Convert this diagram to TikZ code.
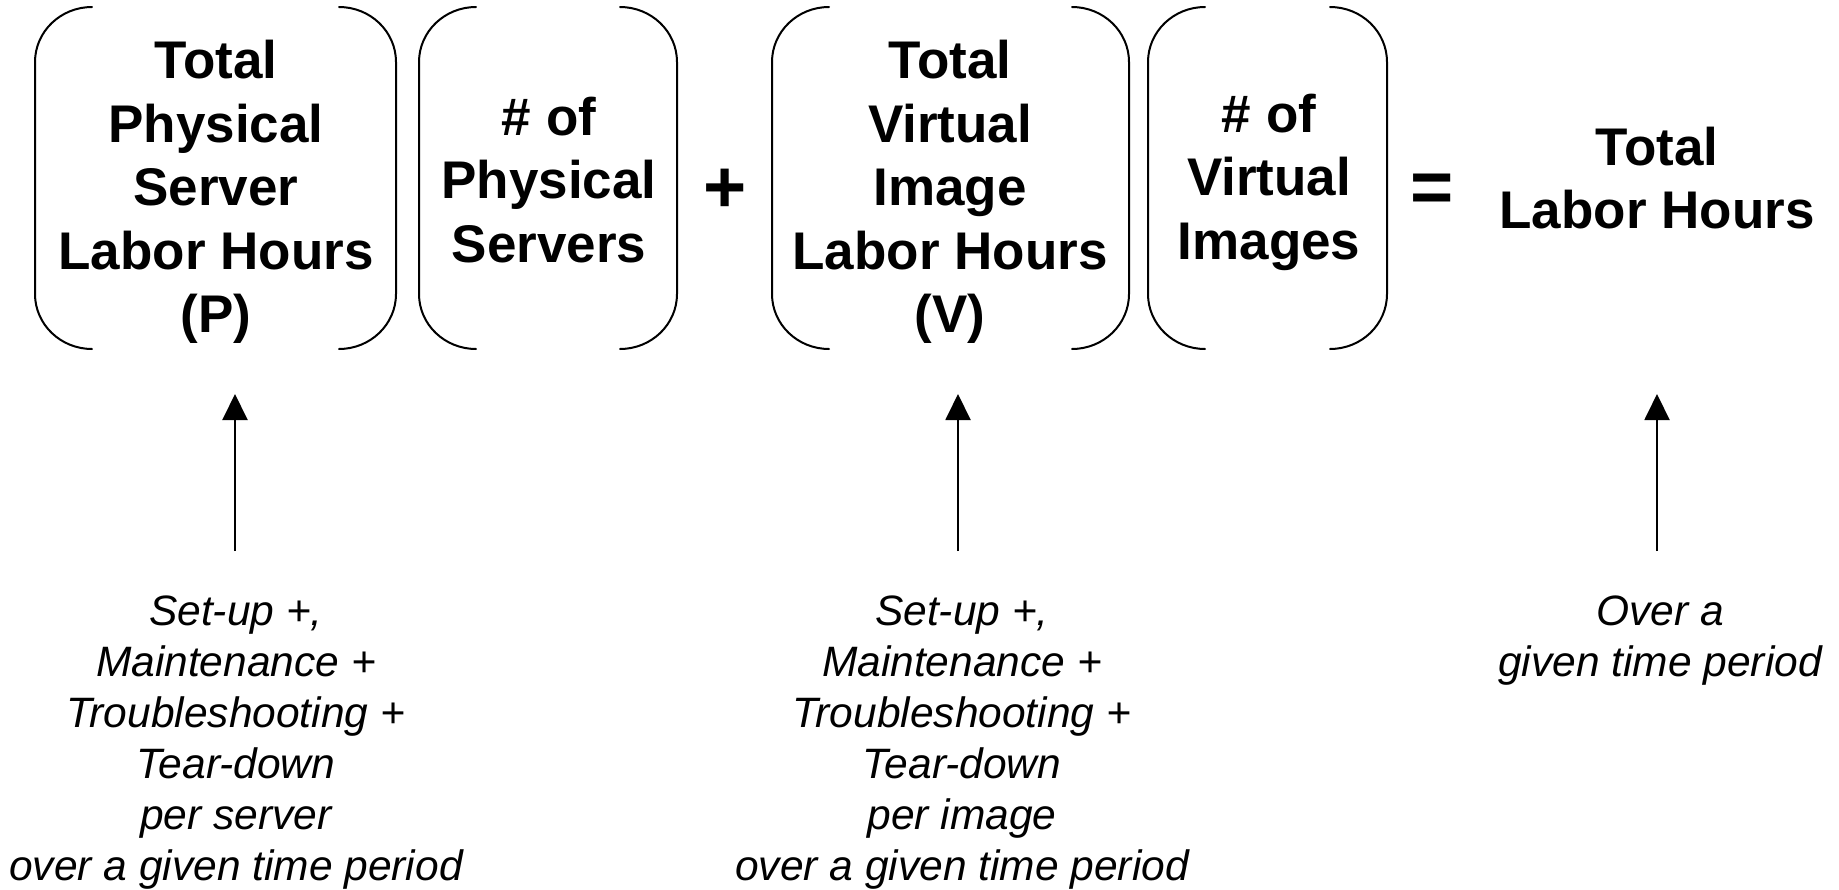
\documentclass[tikz,border=0pt]{standalone}
\usepackage{fontspec}
\setmainfont{Liberation Sans}
\usetikzlibrary{arrows.meta}

% a pair of round brackets enclosing a term: left x, right x, top y, bottom y
\newcommand\termbrackets[4]{%
  \draw[brk] ({#1+57},#3) arc[start angle=-90,end angle=-180,x radius=57,y radius=55]
    -- (#1,{#4-55}) arc[start angle=180,end angle=90,x radius=57,y radius=55];
  \draw[brk] ({#2-57},#3) arc[start angle=-90,end angle=0,x radius=57,y radius=55]
    -- (#2,{#4-55}) arc[start angle=0,end angle=90,x radius=57,y radius=55];
}

\tikzset{
  brk/.style={line width=2pt, line cap=round},
  term/.style={align=center, inner sep=0pt, font=\bfseries\fontsize{53}{63.5}\selectfont},
  oper/.style={inner sep=0pt, font=\bfseries\fontsize{74}{80}\selectfont},
  note/.style={align=center, inner sep=0pt, font=\itshape\fontsize{42.5}{51}\selectfont},
  feeds/.style={line width=2pt, -{Triangle[width=25pt,length=26pt]}}
}

\begin{document}
\begin{tikzpicture}[x=1pt,y=-1pt]
\useasboundingbox (0,0) rectangle (1839,889);

% bracketed terms of the formula
\termbrackets{35}{396}{7}{349}
\termbrackets{419}{677}{7}{349}
\termbrackets{772}{1129}{7}{349}
\termbrackets{1148}{1387}{7}{349}

\node[term] (phys)   at (216,192) {Total\\Physical\\Server\\Labor Hours\\(P)};
\node[term] (nphys)  at (549,180) {\# of\\Physical\\Servers};
\node[oper] (plus)   at (725,191) {+};
\node[term] (virt)   at (950,192) {Total\\Virtual\\Image\\Labor Hours\\(V)};
\node[term] (nvirt)  at (1269,182) {\# of\\Virtual\\Images};
\node[oper] (equals) at (1432,193) {=};
\node[term] (total)  at (1657,178) {Total\\Labor Hours};

% explanations below the formula
\node[note] (physnote)  at (236,743) {Set-up +,\\Maintenance +\\Troubleshooting +\\Tear-down\\per server\\over a given time period};
\node[note] (virtnote)  at (962,743) {Set-up +,\\Maintenance +\\Troubleshooting +\\Tear-down\\per image\\over a given time period};
\node[note] (totalnote) at (1660,641) {Over a\\given time period};

\coordinate (physfrom)  at (235,551);
\coordinate (physto)    at (235,394);
\coordinate (virtfrom)  at (958,551);
\coordinate (virtto)    at (958,394);
\coordinate (totalfrom) at (1657,551);
\coordinate (totalto)   at (1657,394);

\draw[feeds] (physfrom) -- (physto);
\draw[feeds] (virtfrom) -- (virtto);
\draw[feeds] (totalfrom) -- (totalto);
\end{tikzpicture}
\end{document}
